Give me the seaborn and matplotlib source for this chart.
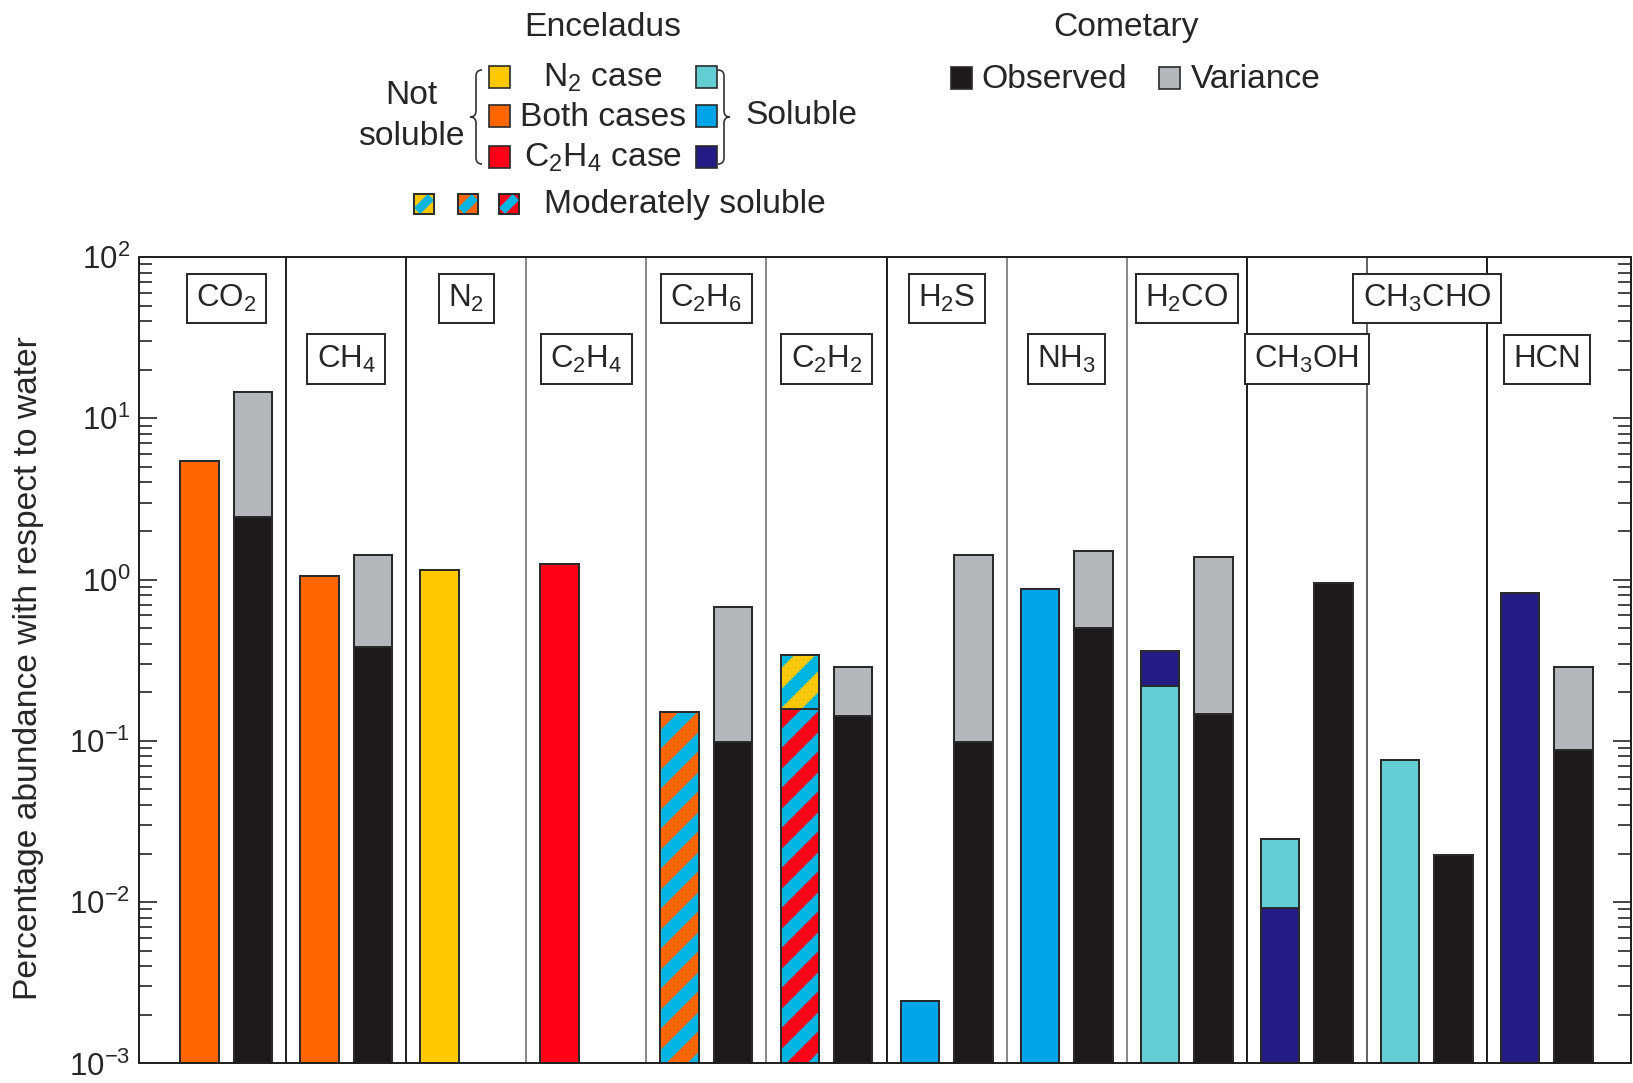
"""Enceladus plume vs cometary abundances, log-scale bar chart."""

import matplotlib
matplotlib.use("Agg")
import matplotlib.pyplot as plt
import matplotlib.colors as mcolors
from matplotlib.patches import Rectangle, Polygon, PathPatch
from matplotlib.path import Path
from matplotlib.ticker import LogLocator, NullFormatter
import numpy as np
import pandas as pd
import seaborn as sns

nan = np.nan

MOLECULES = ["CO$_2$", "CH$_4$", "N$_2$", "C$_2$H$_4$", "C$_2$H$_6$", "C$_2$H$_2$",
             "H$_2$S", "NH$_3$", "H$_2$CO", "CH$_3$OH", "CH$_3$CHO", "HCN"]
SOURCES = ["Enceladus", "Cometary"]

# Enceladus: lower segment and (optional) stacked upper segment
ENC_LOWER = [5.4, 1.05, 1.15, 1.24, 0.150, 0.157, 0.00244, 0.88, 0.218, 0.0092, 0.076, 0.83]
ENC_LOWER_KIND = ["both", "both", "n2", "c2h4", "mod_both", "mod_c2h4",
                  "sol_both", "sol_both", "sol_n2", "sol_c2h4", "sol_n2", "sol_c2h4"]
ENC_UPPER = [nan, nan, nan, nan, nan, 0.34, nan, nan, 0.36, 0.0248, nan, nan]
ENC_UPPER_KIND = [None, None, None, None, None, "mod_n2",
                  None, None, "sol_c2h4", "sol_n2", None, None]

# Cometary: observed value and top of variance range
COMET_OBSERVED = [2.43, 0.384, nan, nan, 0.098, 0.143, 0.098, 0.50, 0.146, 0.95, 0.0196, 0.088]
COMET_VARIANCE = [14.5, 1.42, nan, nan, 0.675, 0.285, 1.42, 1.5, 1.38, nan, nan, 0.285]

W, H, DPI = 1633, 1083, 240

YELLOW, ORANGE, RED = "#FFC800", "#FF6600", "#FF0019"
LCYAN, BLUE, NAVY = "#62CDD3", "#00A4E8", "#241C84"
STRIPE = "#00B5E2"
GREY, BLACK = "#B6B7BB", "#1D1A1B"
EDGE = "#2a2a2a"
KIND_COLORS = {
    "n2": YELLOW, "both": ORANGE, "c2h4": RED,
    "sol_n2": LCYAN, "sol_both": BLUE, "sol_c2h4": NAVY,
    "mod_n2": YELLOW, "mod_both": ORANGE, "mod_c2h4": RED,
}
SEP_COLORS = ["#222", "#222", "#8a8a8a", "#8a8a8a", "#8a8a8a", "#222",
              "#8a8a8a", "#8a8a8a", "#222", "#666", "#222"]

sns.set_theme(style="white")
plt.rcParams["font.family"] = ["Liberation Sans", "DejaVu Sans"]
plt.rcParams["mathtext.fontset"] = "custom"
plt.rcParams["mathtext.rm"] = "Liberation Sans"
plt.rcParams["mathtext.it"] = "Liberation Sans:italic"
plt.rcParams["mathtext.bf"] = "Liberation Sans:bold"
plt.rcParams["mathtext.default"] = "regular"
plt.rcParams["hatch.linewidth"] = 4.0

FS = 9.4      # molecule boxes, tick labels
LFS = 10.1    # legend and axis label


def fx(x):
    return x / W


def fy(y):
    return 1 - y / H


def style_patch(p, kind):
    p.set_facecolor(KIND_COLORS[kind])
    p.set_edgecolor(EDGE)
    p.set_linewidth(0.6)
    if kind.startswith("mod"):
        p.set_hatch("//")
        if hasattr(p, "set_hatchcolor"):
            p.set_hatchcolor(STRIPE)
        else:
            p._hatch_color = mcolors.to_rgba(STRIPE)


def layer_frame(enc_vals, comet_vals):
    df = pd.DataFrame({
        "molecule": MOLECULES * 2,
        "source": ["Enceladus"] * len(MOLECULES) + ["Cometary"] * len(MOLECULES),
        "value": list(enc_vals) + list(comet_vals),
    })
    return df.dropna()


def draw_layer(ax, df, enc_kinds, comet_color):
    n0 = len(ax.patches)
    sns.barplot(data=df, x="molecule", y="value", hue="source",
                order=MOLECULES, hue_order=SOURCES, dodge=True,
                width=0.89, gap=0.28, errorbar=None, saturation=1,
                legend=False, ax=ax)
    for p in ax.patches[n0:]:
        cx = p.get_x() + p.get_width() / 2
        i = int(round(cx))
        if cx < i:
            style_patch(p, enc_kinds[i])
        else:
            p.set_facecolor(comet_color)
            p.set_edgecolor(EDGE)
            p.set_linewidth(0.6)


def brace(fig, xc, ytop, ybot, s, w=6):
    ym = (ytop + ybot) / 2
    pts = [(xc + s * w, ytop), (xc, ytop), (xc, ytop + w), (xc, ym - w),
           (xc, ym), (xc - s * w, ym), (xc, ym), (xc, ym + w),
           (xc, ybot - w), (xc, ybot), (xc + s * w, ybot)]
    codes = [Path.MOVETO, Path.CURVE3, Path.CURVE3, Path.LINETO,
             Path.CURVE3, Path.CURVE3, Path.CURVE3, Path.CURVE3,
             Path.LINETO, Path.CURVE3, Path.CURVE3]
    path = Path([(fx(x), fy(y)) for x, y in pts], codes)
    fig.add_artist(PathPatch(path, fill=False, lw=0.5, ec="#333",
                             transform=fig.transFigure))


def square(fig, cx, cy, color, size=21, band=None):
    h = size / 2
    fig.add_artist(Rectangle((fx(cx - h), fy(cy + h)), size / W, size / H,
                             fc=color, ec=EDGE, lw=0.5, transform=fig.transFigure))
    if band:
        b = 0.62 * h
        pts = [(cx - h, cy + h - b), (cx + h - b, cy - h), (cx + h, cy - h + b),
               (cx - h + b, cy + h)]
        fig.add_artist(Polygon([(fx(x), fy(y)) for x, y in pts], closed=True,
                               fc=band, ec="none", transform=fig.transFigure))
        fig.add_artist(Rectangle((fx(cx - h), fy(cy + h)), size / W, size / H,
                                 fc="none", ec=EDGE, lw=0.5, transform=fig.transFigure))


fig = plt.figure(figsize=(W / DPI, H / DPI), dpi=DPI)
ax = fig.add_axes([fx(138.5), fy(1063.4), (1631 - 138.5) / W, (1063.4 - 257) / H])
ax.set_yscale("log")

draw_layer(ax, layer_frame(ENC_UPPER, COMET_VARIANCE),
           [k if k else "both" for k in ENC_UPPER_KIND], GREY)
draw_layer(ax, layer_frame(ENC_LOWER, COMET_OBSERVED), ENC_LOWER_KIND, BLACK)

ax.set_ylim(1e-3, 1e2)
ax.set_xlim(-0.73, len(MOLECULES) - 0.3)

for i, c in enumerate(SEP_COLORS):
    ax.axvline(i + 0.5, color=c, lw=0.6, zorder=0.5)

for i, name in enumerate(MOLECULES):
    yrow = 0.9485 if i % 2 == 0 else 0.873
    ax.text(i, yrow, name, transform=ax.get_xaxis_transform(), ha="center",
            va="center", fontsize=FS,
            bbox=dict(boxstyle="square,pad=0.3", fc="white", ec=EDGE, lw=0.6))

ax.yaxis.set_major_locator(LogLocator(base=10, numticks=10))
ax.yaxis.set_minor_locator(LogLocator(base=10, subs=np.arange(2, 10), numticks=20))
ax.yaxis.set_minor_formatter(NullFormatter())
ax.tick_params(axis="y", which="both", direction="in", left=True, right=True,
               labelright=False, width=0.5, color="#222")
ax.tick_params(axis="y", which="major", length=5.5, labelsize=FS, pad=2.5)
ax.tick_params(axis="y", which="minor", length=4)
ax.tick_params(axis="x", bottom=False, labelbottom=False)
ax.set_xlabel("")
ax.set_ylabel("Percentage abundance with respect to water", fontsize=LFS)
ax.yaxis.set_label_coords(-0.0635, 0.49)
for sp in ax.spines.values():
    sp.set_color("#222")
    sp.set_linewidth(0.6)

# ---- legend ----
fig.text(fx(603), fy(36), "Enceladus", ha="center", va="baseline", fontsize=LFS)
fig.text(fx(1126), fy(36), "Cometary", ha="center", va="baseline", fontsize=LFS)
fig.text(fx(411), fy(104), "Not", ha="center", va="baseline", fontsize=LFS)
fig.text(fx(411), fy(145), "soluble", ha="center", va="baseline", fontsize=LFS)
brace(fig, 476, 70, 164, 1)
brace(fig, 724, 70, 164, -1)
rows_y = [77, 116, 157]
row_labels = ["N$_2$ case", "Both cases", "C$_2$H$_4$ case"]
for y, lab, cl, cr in zip(rows_y, row_labels, [YELLOW, ORANGE, RED], [LCYAN, BLUE, NAVY]):
    square(fig, 500, y, cl)
    square(fig, 706, y, cr)
    fig.text(fx(603), fy(y + 10), lab, ha="center", va="baseline", fontsize=LFS)
fig.text(fx(745), fy(124), "Soluble", ha="left", va="baseline", fontsize=LFS)
for x, c in zip([424, 468, 509], [YELLOW, ORANGE, RED]):
    square(fig, x, 204, c, size=20, band=STRIPE)
fig.text(fx(544), fy(213), "Moderately soluble", ha="left", va="baseline", fontsize=LFS)
square(fig, 961, 78, BLACK)
fig.text(fx(981), fy(88), "Observed", ha="left", va="baseline", fontsize=LFS)
square(fig, 1169, 78, GREY)
fig.text(fx(1191), fy(88), "Variance", ha="left", va="baseline", fontsize=LFS)

fig.savefig("out.png", dpi=DPI)
